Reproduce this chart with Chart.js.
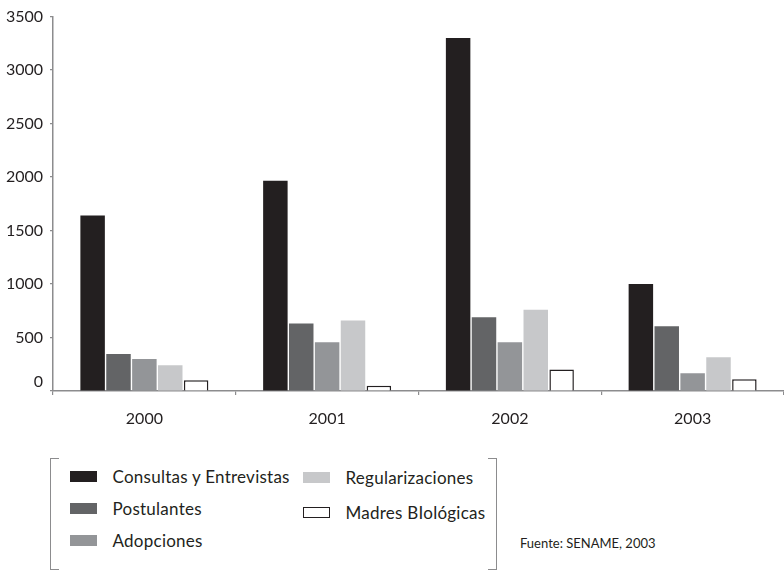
<!DOCTYPE html>
<html><head><meta charset="utf-8">
<script src="https://cdn.jsdelivr.net/npm/chart.js@4/dist/chart.umd.min.js"></script>
<style>
html,body{margin:0;padding:0;background:#fff;}
#wrap{position:relative;width:784px;height:570px;overflow:hidden;font-family:Lato,'Open Sans',sans-serif;color:#231f20;}
#c{position:absolute;left:0;top:0;}
.br{position:absolute;border-color:#8c8c8e;border-style:solid;box-sizing:border-box;}
.item{position:absolute;height:20px;display:flex;align-items:center;font-size:17px;letter-spacing:0.25px;white-space:nowrap;}
.sw{display:inline-block;width:27px;height:11px;box-sizing:border-box;}
#src{position:absolute;left:520px;top:535px;font-size:13px;white-space:nowrap;}
</style></head><body>
<div id="wrap">
<canvas id="c" width="784" height="445"></canvas>
<div class="br" style="left:50px;top:458px;width:9px;height:112px;border-width:1.5px 0 1.5px 1.5px"></div>
<div class="br" style="left:488px;top:458px;width:9px;height:112px;border-width:1.5px 1.5px 1.5px 0"></div>
<div id="legend"></div>
<div id="src">Fuente: SENAME, 2003</div>
</div>
<script>
// ---- data ----
const years = ['2000', '2001', '2002', '2003'];
const seriesNames = ['Consultas y Entrevistas', 'Postulantes', 'Adopciones', 'Regularizaciones', 'Madres BIológicas'];
const consultas = [1640, 1965, 3300, 1000];
const postulantes = [345, 630, 690, 605];
const adopciones = [300, 455, 455, 165];
const regularizaciones = [240, 660, 760, 315];
const madres = [100, 50, 200, 110];
const yTicks = [0, 500, 1000, 1500, 2000, 2500, 3000, 3500];

// ---- styles ----
const fills = ['#231f20', '#636466', '#939598', '#c7c8ca', '#ffffff'];
const borders = ['#231f20', '#636466', '#939598', '#c7c8ca', '#231f20'];
const borderW = [0, 0, 0, 0, 1.5];
const axisColor = '#8c8c8e';
const seriesValues = [consultas, postulantes, adopciones, regularizaciones, madres];

// legend (HTML)
const legendPos = [[70, 476.5], [70, 508.5], [70, 540], [302.5, 477], [302.5, 512.5]];
const leg = document.getElementById('legend');
seriesNames.forEach((n, i) => {
  const d = document.createElement('div');
  d.className = 'item';
  d.style.left = legendPos[i][0] + 'px';
  d.style.top = (legendPos[i][1] - 10) + 'px';
  const s = document.createElement('span');
  s.className = 'sw';
  s.style.background = fills[i];
  if (borderW[i]) s.style.border = '1.2px solid ' + borders[i];
  const t = document.createElement('span');
  t.textContent = n;
  t.style.marginLeft = (i < 3 ? 15.5 : 16) + 'px';
  d.appendChild(s); d.appendChild(t);
  leg.appendChild(d);
});

function draw() {
  new Chart(document.getElementById('c'), {
    type: 'bar',
    data: {
      labels: years,
      datasets: seriesNames.map((n, i) => ({
        label: n,
        data: seriesValues[i],
        backgroundColor: fills[i],
        borderColor: borders[i],
        borderWidth: borderW[i],
        categoryPercentage: 0.708,
        barPercentage: 0.946
      }))
    },
    options: {
      responsive: false,
      devicePixelRatio: 1,
      animation: false,
      layout: { padding: { top: 15, left: 6, right: 0, bottom: 2.8 } },
      plugins: { legend: { display: false }, tooltip: { enabled: false } },
      scales: {
        x: {
          grid: { drawOnChartArea: false, drawTicks: true, tickLength: 4, color: axisColor, lineWidth: 1.2 },
          border: { display: true, color: axisColor, width: 1.5 },
          ticks: { color: '#231f20', font: { family: 'Lato', size: 16 }, padding: 14 }
        },
        y: {
          min: 0, max: 3500,
          afterBuildTicks: s => { s.ticks = yTicks.map(v => ({ value: v })); },
          afterFit: s => { s.width = 47; },
          grid: { drawOnChartArea: false, drawTicks: true, tickLength: 3, color: axisColor, lineWidth: 1.2 },
          border: { display: true, color: axisColor, width: 1.5 },
          ticks: {
            color: '#231f20', font: { family: 'Lato', size: 16 }, padding: 7,
            callback: v => v === 0 ? ['0', ''] : String(v)
          }
        }
      }
    }
  });
}
if (document.fonts && document.fonts.load) {
  document.fonts.load('16px Lato').then(draw, draw);
} else { draw(); }
</script>
</body></html>
